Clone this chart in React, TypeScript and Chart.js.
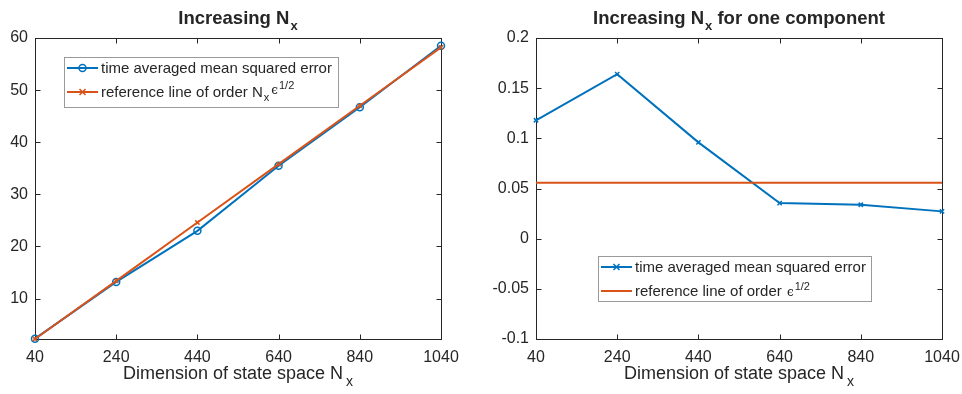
import React, { useEffect, useRef } from "react";
import { Chart, registerables } from "chart.js";

Chart.register(...registerables);

// ---------- data ----------
const xValues = [40, 240, 440, 640, 840, 1040];
const xTicks = [40, 240, 440, 640, 840, 1040];

const leftMse = [2.3, 13.2, 23.0, 35.5, 46.7, 58.5];
const leftRef = [2.24, 13.4, 24.6, 35.8, 47.0, 58.2];
const leftYTicks = [10, 20, 30, 40, 50, 60];
const leftYMax = 60;

const rightMse = [0.118, 0.164, 0.096, 0.0355, 0.0338, 0.0272];
const rightRef = [0.0558, 0.0558, 0.0558, 0.0558, 0.0558, 0.0558];
const rightYTicks = [-0.1, -0.05, 0, 0.05, 0.1, 0.15, 0.2];
const rightYMin = -0.1;
const rightYMax = 0.2;

const leftTitle = "Increasing N";
const rightTitle = "Increasing N";
const rightTitleTail = " for one component";
const xLabel = "Dimension of state space N";
const mseLabel = "time averaged mean squared error";
const refLabelLeft = "reference line of order N";
const refLabelRight = "reference line of order ";

// ---------- styling ----------
const FONT = '"Liberation Sans", Arial, Helvetica, sans-serif';
const INK = "#262626";
const BLUE = "#0072BD";
const ORANGE = "#D95319";

type Seg = {
  t: string;
  size: number;
  bold?: boolean;
  italic?: boolean;
  dy?: number;
  dx?: number;
  family?: string;
};

function fontOf(s: Seg) {
  return `${s.italic ? "italic " : ""}${s.bold ? "bold " : ""}${s.size}px ${s.family ?? FONT}`;
}

function drawRich(ctx: CanvasRenderingContext2D, segs: Seg[], x: number, y: number, align: "left" | "center") {
  let total = 0;
  for (const s of segs) {
    ctx.font = fontOf(s);
    total += (s.dx ?? 0) + ctx.measureText(s.t).width;
  }
  let cx = align === "center" ? x - total / 2 : x;
  ctx.textAlign = "left";
  ctx.textBaseline = "alphabetic";
  ctx.fillStyle = INK;
  for (const s of segs) {
    ctx.font = fontOf(s);
    cx += s.dx ?? 0;
    ctx.fillText(s.t, cx, y + (s.dy ?? 0));
    cx += ctx.measureText(s.t).width;
  }
}

type LegendRow = { color: string; marker: "circle" | "cross" | "none"; segs: Seg[]; dy: number };
type PanelSpec = {
  title: Seg[];
  xlabel: Seg[];
  legend: { x: number; y: number; w: number; h: number; rows: LegendRow[] };
};

function drawMarker(ctx: CanvasRenderingContext2D, kind: string, x: number, y: number, color: string) {
  ctx.strokeStyle = color;
  ctx.lineWidth = 1.5;
  if (kind === "circle") {
    ctx.beginPath();
    ctx.arc(x, y, 3.5, 0, Math.PI * 2);
    ctx.stroke();
  } else if (kind === "cross") {
    const r = 3;
    ctx.beginPath();
    ctx.moveTo(x - r, y - r);
    ctx.lineTo(x + r, y + r);
    ctx.moveTo(x - r, y + r);
    ctx.lineTo(x + r, y - r);
    ctx.stroke();
  }
}

function makePlugin(spec: PanelSpec) {
  return {
    id: "matlabLook",
    beforeDatasetsDraw(chart: any) {
      const ctx: CanvasRenderingContext2D = chart.ctx;
      const { left, right, top, bottom } = chart.chartArea;
      const l = Math.round(left) + 0.5;
      const r = Math.round(right) + 0.5;
      const t = Math.round(top) + 0.5;
      const b = Math.round(bottom) + 0.5;
      ctx.save();
      ctx.strokeStyle = INK;
      ctx.lineWidth = 1;
      ctx.strokeRect(l, t, r - l, b - t);
      const tl = 5;
      ctx.beginPath();
      for (const tk of chart.scales.x.ticks) {
        const px = Math.round(chart.scales.x.getPixelForValue(tk.value)) + 0.5;
        if (Math.abs(px - l) < 1 || Math.abs(px - r) < 1) continue;
        ctx.moveTo(px, b);
        ctx.lineTo(px, b - tl);
        ctx.moveTo(px, t);
        ctx.lineTo(px, t + tl);
      }
      for (const tk of chart.scales.y.ticks) {
        const py = Math.round(chart.scales.y.getPixelForValue(tk.value)) + 0.5;
        if (Math.abs(py - t) < 1 || Math.abs(py - b) < 1) continue;
        ctx.moveTo(l, py);
        ctx.lineTo(l + tl, py);
        ctx.moveTo(r, py);
        ctx.lineTo(r - tl, py);
      }
      ctx.stroke();
      ctx.restore();
    },
    afterDraw(chart: any) {
      const ctx: CanvasRenderingContext2D = chart.ctx;
      const { left, right } = chart.chartArea;
      const cx = (left + right) / 2;
      ctx.save();
      drawRich(ctx, spec.title, cx, 24, "center");
      drawRich(ctx, spec.xlabel, cx, 379, "center");
      const lg = spec.legend;
      ctx.fillStyle = "#ffffff";
      ctx.fillRect(lg.x, lg.y, lg.w, lg.h);
      ctx.strokeStyle = "#9a9a9a";
      ctx.lineWidth = 1;
      ctx.strokeRect(lg.x + 0.5, lg.y + 0.5, lg.w, lg.h);
      for (const row of lg.rows) {
        const ry = lg.y + row.dy;
        ctx.strokeStyle = row.color;
        ctx.lineWidth = 2;
        ctx.beginPath();
        ctx.moveTo(lg.x + 3, ry);
        ctx.lineTo(lg.x + 34, ry);
        ctx.stroke();
        drawMarker(ctx, row.marker, lg.x + 18.5, ry, row.color);
        drawRich(ctx, row.segs, lg.x + 37, ry + 5, "left");
      }
      ctx.restore();
    },
  };
}

function baseScales(yMin: number, yMax: number, yTicks: number[], yWidth: number) {
  const tickFont = { family: FONT, size: 16 };
  return {
    x: {
      type: "linear" as const,
      min: xTicks[0],
      max: xTicks[xTicks.length - 1],
      afterBuildTicks: (s: any) => {
        s.ticks = xTicks.map((v) => ({ value: v }));
      },
      afterFit: (s: any) => {
        s.height = 55;
        s.paddingLeft = 0;
        s.paddingRight = 0;
      },
      ticks: {
        font: tickFont,
        color: INK,
        padding: 9,
        maxRotation: 0,
        autoSkip: false,
        callback: (v: any) => String(v),
      },
      grid: { display: false, drawTicks: false },
      border: { display: false },
    },
    y: {
      type: "linear" as const,
      min: yMin,
      max: yMax,
      afterBuildTicks: (s: any) => {
        s.ticks = yTicks.map((v) => ({ value: v }));
      },
      afterFit: (s: any) => {
        s.width = yWidth;
        s.paddingTop = 0;
        s.paddingBottom = 0;
      },
      ticks: {
        font: tickFont,
        color: INK,
        padding: 7,
        autoSkip: false,
        callback: (v: any) => String(v),
      },
      grid: { display: false, drawTicks: false },
      border: { display: false },
    },
  };
}

function Panel(props: { which: "left" | "right" }) {
  const ref = useRef<HTMLCanvasElement | null>(null);
  useEffect(() => {
    const canvas = ref.current;
    if (!canvas) return;
    const isLeft = props.which === "left";
    let chart: Chart;
    if (isLeft) {
      const spec: PanelSpec = {
        title: [
          { t: leftTitle, size: 18.5, bold: true },
          { t: "x", size: 13, bold: true, dy: 6, dx: 1 },
        ],
        xlabel: [
          { t: xLabel, size: 18 },
          { t: "x", size: 14, dy: 7, dx: 3 },
        ],
        legend: {
          x: 64,
          y: 57,
          w: 274,
          h: 50,
          rows: [
            { color: BLUE, marker: "circle", dy: 11, segs: [{ t: mseLabel, size: 15 }] },
            {
              color: ORANGE,
              marker: "cross",
              dy: 35,
              segs: [
                { t: refLabelLeft, size: 15 },
                { t: "x", size: 11, dy: 4, dx: 1 },
                { t: "ϵ", size: 12, dy: -3, dx: 2, family: '"DejaVu Serif", serif' },
                { t: "1/2", size: 11, dy: -8, dx: 1 },
              ],
            },
          ],
        },
      };
      chart = new Chart(canvas, {
        type: "line",
        data: {
          datasets: [
            {
              label: refLabelLeft,
              data: xValues.map((x, i) => ({ x, y: leftRef[i] })),
              borderColor: ORANGE,
              backgroundColor: ORANGE,
              borderWidth: 2,
              pointStyle: "crossRot",
              pointRadius: 3,
              pointBorderWidth: 1.5,
              pointBorderColor: ORANGE,
              clip: false as any,
              order: 0,
            },
            {
              label: mseLabel,
              data: xValues.map((x, i) => ({ x, y: leftMse[i] })),
              borderColor: BLUE,
              backgroundColor: "rgba(0,0,0,0)",
              borderWidth: 2,
              pointStyle: "circle",
              pointRadius: 3.5,
              pointBorderWidth: 1.5,
              pointBorderColor: BLUE,
              pointBackgroundColor: "rgba(0,0,0,0)",
              clip: false as any,
              order: 1,
            },
          ],
        },
        options: {
          animation: false,
          responsive: false,
          layout: { padding: { left: 0, right: 40, top: 38, bottom: 0 } },
          plugins: { legend: { display: false }, title: { display: false }, tooltip: { enabled: false } },
          scales: baseScales(Math.min(...leftMse, ...leftRef), leftYMax, leftYTicks, 35) as any,
        },
        plugins: [makePlugin(spec)],
      });
    } else {
      const spec: PanelSpec = {
        title: [
          { t: rightTitle, size: 18.5, bold: true },
          { t: "x", size: 13, bold: true, dy: 6, dx: 1 },
          { t: rightTitleTail, size: 18.5, bold: true },
        ],
        xlabel: [
          { t: xLabel, size: 18 },
          { t: "x", size: 14, dy: 7, dx: 3 },
        ],
        legend: {
          x: 117,
          y: 256,
          w: 273,
          h: 45,
          rows: [
            { color: BLUE, marker: "cross", dy: 11, segs: [{ t: mseLabel, size: 15 }] },
            {
              color: ORANGE,
              marker: "none",
              dy: 35,
              segs: [
                { t: refLabelRight, size: 15 },
                { t: "ϵ", size: 12, dy: 0, dx: 1, family: '"DejaVu Serif", serif' },
                { t: "1/2", size: 11, dy: -6, dx: 1 },
              ],
            },
          ],
        },
      };
      chart = new Chart(canvas, {
        type: "line",
        data: {
          datasets: [
            {
              label: refLabelRight,
              data: xValues.map((x, i) => ({ x, y: rightRef[i] })),
              borderColor: ORANGE,
              backgroundColor: ORANGE,
              borderWidth: 2,
              pointRadius: 0,
              clip: false as any,
              order: 0,
            },
            {
              label: mseLabel,
              data: xValues.map((x, i) => ({ x, y: rightMse[i] })),
              borderColor: BLUE,
              backgroundColor: BLUE,
              borderWidth: 2,
              pointStyle: "crossRot",
              pointRadius: 3,
              pointBorderWidth: 1.5,
              pointBorderColor: BLUE,
              clip: false as any,
              order: 1,
            },
          ],
        },
        options: {
          animation: false,
          responsive: false,
          layout: { padding: { left: 0, right: 20, top: 38, bottom: 0 } },
          plugins: { legend: { display: false }, title: { display: false }, tooltip: { enabled: false } },
          scales: baseScales(rightYMin, rightYMax, rightYTicks, 55) as any,
        },
        plugins: [makePlugin(spec)],
      });
    }
    return () => chart.destroy();
  }, [props.which]);
  return <canvas ref={ref} width={481} height={394} style={{ display: "block", width: 481, height: 394 }} />;
}

export default function App() {
  return (
    <div
      style={{
        position: "fixed",
        left: 0,
        top: 0,
        width: 962,
        height: 394,
        background: "#ffffff",
        display: "flex",
        flexDirection: "row",
      }}
    >
      <Panel which="left" />
      <Panel which="right" />
    </div>
  );
}
